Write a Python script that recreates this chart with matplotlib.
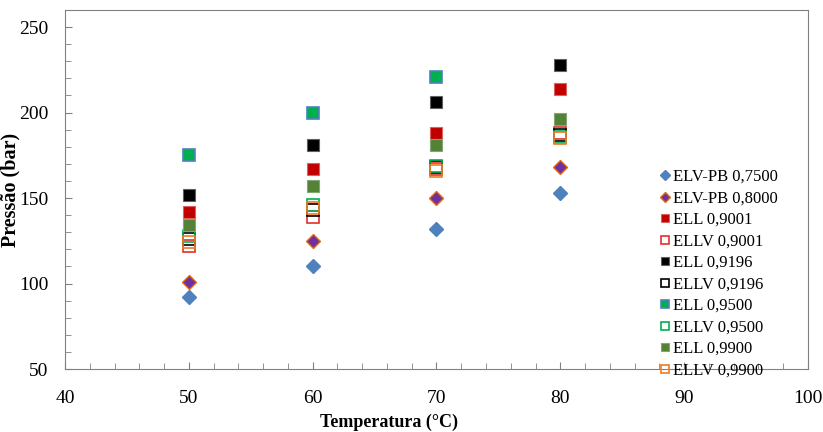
import matplotlib.pyplot as plt
from matplotlib.ticker import MultipleLocator

plt.rcParams['font.family'] = ['Liberation Serif', 'DejaVu Serif']

temps = [50, 60, 70, 80]
temps_no80 = [50, 60, 70]

elv_075 = [92, 110, 132, 153]
elv_080 = [101, 125, 150, 168]
ell_9001 = [142, 167, 188, 214]
ellv_9001 = [122, 139, 167, 188]
ell_9196 = [152, 181, 206, 228]
ellv_9196 = [126, 143, 168, 187]
ell_9500 = [175, 200, 221]
ellv_9500 = [128, 146, 169, 186]
ell_9900 = [134, 157, 181, 196]
ellv_9900 = [124, 144, 166, 185]

fig = plt.figure(figsize=(8.23, 4.32), dpi=100)
ax = fig.add_axes([65 / 823, 1 - 369 / 432, (808 - 65) / 823, (369 - 10) / 432])

ms = 9
ax.plot(temps, elv_075, 'D', ms=7, color='#4F81BD', mec='#4F81BD', label='ELV-PB 0,7500')
ax.plot(temps, elv_080, 'D', ms=7, color='#7030A0', mec='#E46C0A', mew=1, label='ELV-PB 0,8000')
ax.plot(temps, ell_9001, 's', ms=ms, color='#C00000', mec='#E06060', mew=0.8, label='ELL 0,9001')
ax.plot(temps, ellv_9001, 's', ms=ms, mfc='none', mec='#E03030', mew=1.2, label='ELLV 0,9001')
ax.plot(temps, ell_9196, 's', ms=ms, color='black', mec='#606060', mew=0.8, label='ELL 0,9196')
ax.plot(temps, ellv_9196, 's', ms=ms, mfc='none', mec='black', mew=1.2, label='ELLV 0,9196')
ax.plot(temps_no80, ell_9500, 's', ms=ms, color='#00B050', mec='#4F81BD', mew=1.2, label='ELL 0,9500')
ax.plot(temps, ellv_9500, 's', ms=ms, mfc='none', mec='#00B050', mew=1.2, label='ELLV 0,9500')
ax.plot(temps, ell_9900, 's', ms=ms, color='#538135', mec='#80A870', mew=0.8, label='ELL 0,9900')
ax.plot(temps, ellv_9900, 's', ms=ms, mfc='none', mec='#F07A20', mew=1.2, label='ELLV 0,9900')

ax.set_xlim(40, 100)
ax.set_ylim(50, 260)
ax.set_xticks(range(40, 101, 10))
ax.set_yticks(range(50, 251, 50))
ax.xaxis.set_minor_locator(MultipleLocator(2))
ax.yaxis.set_minor_locator(MultipleLocator(10))
ax.tick_params(which='both', direction='in', color='#808080', labelsize=14)
ax.tick_params(which='major', length=5)
ax.tick_params(which='minor', length=4)
ax.tick_params(axis='x', pad=15)
ax.tick_params(axis='y', pad=12)
for s in ax.spines.values():
    s.set_color('#808080')

ax.set_xlabel('Temperatura (°C)', fontsize=13, fontweight='bold')
ax.xaxis.set_label_coords((389 - 65) / 743, -(414 - 369) / 359)
ax.set_ylabel('Pressão (bar)', fontsize=14.5, fontweight='bold')
ax.yaxis.set_label_coords(-(65 - 20) / 743, 0.5)

leg = ax.legend(loc='upper left', bbox_to_anchor=(660 / 823, 1 - 169 / 432),
                bbox_transform=fig.transFigure, frameon=False, fontsize=12,
                handlelength=0.6, handletextpad=0.2, labelspacing=0.33,
                borderaxespad=0, borderpad=0, markerscale=0.7)

fig.savefig('out.png', dpi=100)
